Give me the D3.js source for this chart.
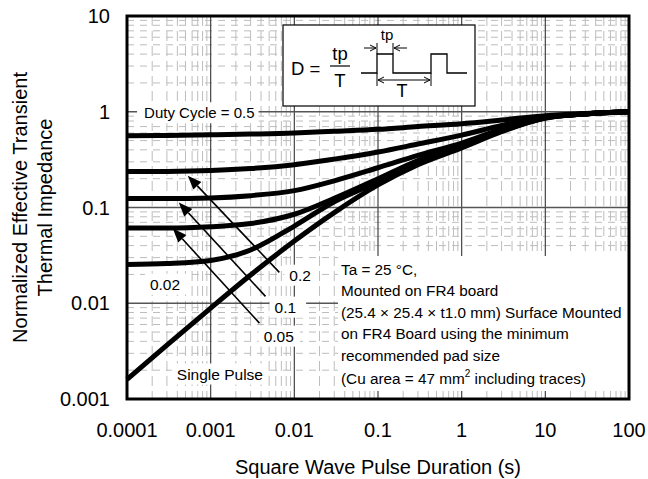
<!DOCTYPE html>
<html><head><meta charset="utf-8">
<script src="https://cdn.jsdelivr.net/npm/d3@7"></script>
<style>body{margin:0;background:#fff}svg{display:block;font-family:"Liberation Sans",Arial,Helvetica,sans-serif}</style>
</head><body><svg id="c" width="648" height="479"></svg>
<script>
// ---- data ----
const durations = [1e-4, 3e-4, 1e-3, 3e-3, 1e-2, 3e-2, 0.1, 0.3, 1, 3, 10, 30, 100];
const dutyLabels = ["0.5", "0.2", "0.1", "0.05", "0.02", "Single Pulse"];
const zD05    = [0.56, 0.565, 0.575, 0.585, 0.60, 0.625, 0.655, 0.70, 0.75, 0.82, 0.91, 0.96, 1.0];
const zD02    = [0.237, 0.238, 0.243, 0.255, 0.28, 0.32, 0.38, 0.46, 0.57, 0.72, 0.88, 0.95, 1.0];
const zD01    = [0.124, 0.124, 0.126, 0.133, 0.15, 0.19, 0.26, 0.35, 0.47, 0.66, 0.87, 0.95, 1.0];
const zD005   = [0.061, 0.061, 0.063, 0.068, 0.085, 0.125, 0.20, 0.31, 0.45, 0.65, 0.87, 0.95, 1.0];
const zD002   = [0.0254, 0.026, 0.028, 0.036, 0.064, 0.115, 0.185, 0.29, 0.43, 0.63, 0.86, 0.95, 1.0];
const zSingle = [0.0016, 0.00365, 0.0089, 0.0197, 0.0447, 0.0885, 0.172, 0.28, 0.42, 0.62, 0.86, 0.95, 1.0];
const seriesValues = [zD05, zD02, zD01, zD005, zD002, zSingle];

const xTickValues = [1e-4, 1e-3, 1e-2, 1e-1, 1, 10, 100];
const xTickLabels = ["0.0001", "0.001", "0.01", "0.1", "1", "10", "100"];
const yTickValues = [1e-3, 1e-2, 1e-1, 1, 10];
const yTickLabels = ["0.001", "0.01", "0.1", "1", "10"];

const xTitle = "Square Wave Pulse Duration (s)";
const yTitle = ["Normalized Effective Transient", "Thermal Impedance"];
const conditionLines = ["Ta = 25 °C,", "Mounted on FR4 board", "(25.4 × 25.4 × t1.0 mm) Surface Mounted",
  "on FR4 Board using the minimum", "recommended pad size", "(Cu area = 47 mm|2| including traces)"];

// ---- layout ----
const W = 648, H = 479, m = {l: 127, r: 19, t: 16, b: 80};
const svg = d3.select("#c");
const x = d3.scaleLog().domain([1e-4, 100]).range([m.l, W - m.r]);
const y = d3.scaleLog().domain([1e-3, 10]).range([H - m.b, m.t]);
const FONT_ANN = 15.5;

// minor grid values
const minorX = [], minorY = [];
for (let e = -4; e < 2; e++) for (let k = 2; k <= 9; k++) minorX.push(k * Math.pow(10, e));
for (let e = -3; e < 1; e++) for (let k = 2; k <= 9; k++) minorY.push(k * Math.pow(10, e));

const grid = svg.append("g");
grid.selectAll(".mx").data(minorX).join("line")
  .attr("x1", d => x(d)).attr("x2", d => x(d)).attr("y1", m.t).attr("y2", H - m.b)
  .attr("stroke", "#bdbdbd").attr("stroke-width", 1).attr("stroke-dasharray", "10,5");
grid.selectAll(".my").data(minorY).join("line")
  .attr("x1", m.l).attr("x2", W - m.r).attr("y1", d => y(d)).attr("y2", d => y(d))
  .attr("stroke", "#bdbdbd").attr("stroke-width", 1).attr("stroke-dasharray", "7,6");
grid.selectAll(".Mx").data(xTickValues.slice(1, -1)).join("line")
  .attr("x1", d => x(d)).attr("x2", d => x(d)).attr("y1", m.t).attr("y2", H - m.b)
  .attr("stroke", "#444").attr("stroke-width", 1.2);
grid.selectAll(".My").data(yTickValues.slice(1, -1)).join("line")
  .attr("x1", m.l).attr("x2", W - m.r).attr("y1", d => y(d)).attr("y2", d => y(d))
  .attr("stroke", "#555").attr("stroke-width", 1.4);

const bgLayer = svg.append("g");
const curveLayer = svg.append("g");
const annLayer = svg.append("g");

// curves
const line = d3.line().x(d => x(d[0])).y(d => y(d[1])).curve(d3.curveMonotoneX);
curveLayer.selectAll("path").data(seriesValues).join("path")
  .attr("d", vals => line(durations.map((t, i) => [t, vals[i]])))
  .attr("fill", "none").attr("stroke", "#000").attr("stroke-width", 5).attr("stroke-linejoin", "round");

function addBg(textSel, padL, padR, padT, padB) {
  const b = textSel.node().getBBox();
  bgLayer.append("rect").attr("x", b.x - padL).attr("y", b.y - padT)
    .attr("width", b.width + padL + padR).attr("height", b.height + padT + padB).attr("fill", "#fff");
}
function label(txt, tx, ty, size, pads) {
  const t = annLayer.append("text").attr("x", x(tx)).attr("y", y(ty)).attr("dy", "0.35em")
    .attr("font-size", size).text(txt);
  addBg(t, ...(pads || [5, 6, 2, 2]));
  return t;
}

// annotation labels (data-space anchors)
label("Duty Cycle = " + dutyLabels[0], 1.6e-4, 0.97, 15, [7, 4, 2, 2]);
label(dutyLabels[1], 0.0087, 0.0196, FONT_ANN, [5, 6, 2, 2]);
label(dutyLabels[2], 0.0058, 0.0091, FONT_ANN, [5, 10, 2, 2]);
label(dutyLabels[3], 0.0043, 0.00453, FONT_ANN, [5, 6, 2, 2]);
label(dutyLabels[4], 1.88e-4, 0.0158, FONT_ANN, [5, 10, 2, 2]);
label(dutyLabels[5], 3.94e-4, 0.00182, FONT_ANN, [5, 5, 2, 2]);

// arrows: [tail, tip] in data space
const arrows = [
  [[0.00662, 0.021], [5.32e-4, 0.215]],
  [[0.00452, 0.0118], [4.16e-4, 0.113]],
  [[0.00383, 0.0062], [3.53e-4, 0.0604]]
];
arrows.forEach(([a, b]) => {
  const x1 = x(a[0]), y1 = y(a[1]), x2 = x(b[0]), y2 = y(b[1]);
  const ang = Math.atan2(y2 - y1, x2 - x1), L = 14, hw = 5.5;
  const bx = x2 - L * Math.cos(ang), by = y2 - L * Math.sin(ang);
  annLayer.append("line").attr("x1", x1).attr("y1", y1).attr("x2", bx).attr("y2", by)
    .attr("stroke", "#000").attr("stroke-width", 1.6);
  annLayer.append("path").attr("d", `M${x2},${y2}L${bx + hw * Math.sin(ang)},${by - hw * Math.cos(ang)}L${bx - hw * Math.sin(ang)},${by + hw * Math.cos(ang)}Z`)
    .attr("fill", "#000");
});

// condition text block
const condG = annLayer.append("g");
conditionLines.forEach((s, i) => {
  const t = condG.append("text").attr("x", 341).attr("y", 275 + i * 21.4 + (i === 5 ? 2 : 0)).attr("font-size", 15.3);
  const parts = s.split("|");
  t.append("tspan").text(parts[0]);
  if (parts.length > 1) {
    t.append("tspan").attr("font-size", 10).attr("dy", -7).text(parts[1]);
    t.append("tspan").attr("dy", 7).text(parts[2]);
  }
});
{
  const b = condG.node().getBBox();
  bgLayer.append("rect").attr("x", b.x - 3).attr("y", b.y - 5).attr("width", W - m.r - b.x + 3)
    .attr("height", b.height + 9).attr("fill", "#fff");
}

// inset box with duty-cycle definition
const ins = annLayer.append("g");
ins.append("rect").attr("x", 283).attr("y", 25).attr("width", 192).attr("height", 81)
  .attr("fill", "#fff").attr("stroke", "#000").attr("stroke-width", 1.2);
ins.append("text").attr("x", 291).attr("y", 75).attr("font-size", 18.5).text("D =");
ins.append("text").attr("x", 340).attr("y", 60).attr("font-size", 18.5).attr("text-anchor", "middle").text("tp");
ins.append("line").attr("x1", 330).attr("x2", 350).attr("y1", 66).attr("y2", 66).attr("stroke", "#000").attr("stroke-width", 1.2);
ins.append("text").attr("x", 340).attr("y", 87).attr("font-size", 18.5).attr("text-anchor", "middle").text("T");
ins.append("path").attr("d", "M361,73H377V54H393V73H431V54H447V73H467")
  .attr("fill", "none").attr("stroke", "#000").attr("stroke-width", 1.3);
ins.append("path").attr("d", "M377,73V86M431,73V86M377,43V54M393,43V54")
  .attr("fill", "none").attr("stroke", "#000").attr("stroke-width", 1);
function harrow(x1, x2, yy) {
  ins.append("line").attr("x1", x1).attr("x2", x2).attr("y1", yy).attr("y2", yy).attr("stroke", "#000").attr("stroke-width", 1);
  const d = Math.sign(x2 - x1);
  ins.append("path").attr("d", `M${x2 - d * 6},${yy - 3}L${x2},${yy}L${x2 - d * 6},${yy + 3}`).attr("fill", "none").attr("stroke", "#000").attr("stroke-width", 1);
}
harrow(364, 376, 48);
harrow(407, 394, 48);
harrow(404, 378, 80);
harrow(404, 430, 80);
ins.append("text").attr("x", 387).attr("y", 40).attr("font-size", 15).attr("text-anchor", "middle").text("tp");
ins.append("text").attr("x", 402).attr("y", 97).attr("font-size", 18).attr("text-anchor", "middle").text("T");

// border
svg.append("rect").attr("x", m.l).attr("y", m.t).attr("width", W - m.l - m.r).attr("height", H - m.t - m.b)
  .attr("fill", "none").attr("stroke", "#000").attr("stroke-width", 3);

// axes tick labels
svg.append("g").selectAll("text").data(xTickValues).join("text")
  .attr("x", d => x(d)).attr("y", 437).attr("text-anchor", "middle").attr("font-size", 20)
  .text((d, i) => xTickLabels[i]);
svg.append("g").selectAll("text").data(yTickValues).join("text")
  .attr("x", m.l - 17).attr("y", d => y(d)).attr("dy", "0.35em").attr("text-anchor", "end").attr("font-size", 20)
  .text((d, i) => yTickLabels[i]);

// titles
svg.append("text").attr("x", (m.l + W - m.r) / 2).attr("y", 474).attr("text-anchor", "middle").attr("font-size", 20).text(xTitle);
yTitle.forEach((s, i) => {
  svg.append("text").attr("transform", `translate(${27 + i * 25},${(m.t + H - m.b) / 2}) rotate(-90)`)
    .attr("text-anchor", "middle").attr("font-size", 20).text(s);
});
</script></body></html>
